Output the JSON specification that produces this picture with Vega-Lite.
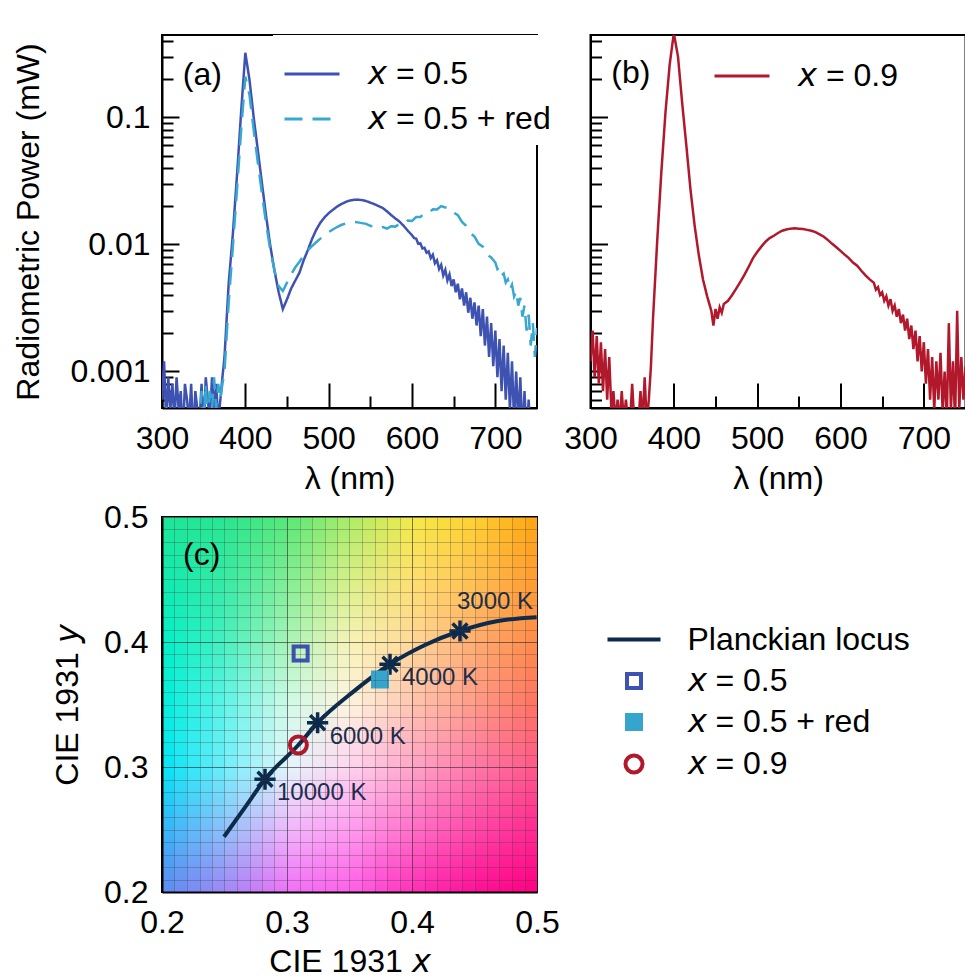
{
"$schema": "https://vega.github.io/schema/vega-lite/v6.json",
"autosize": "none",
"padding": {"left": 162, "top": 35, "right": 803, "bottom": 944},
"background": "white",
"config": {
  "font": "Liberation Sans",
  "view": {"stroke": "black", "strokeWidth": 2},
  "axis": {"labelFont": "Liberation Sans", "titleFont": "Liberation Sans", "labelFontSize": 32, "titleFontSize": 32, "titleFontWeight": "normal", "labelColor": "black", "titleColor": "black", "domainColor": "black", "domainWidth": 2, "tickColor": "black", "tickWidth": 2, "grid": false, "labelOverlap": false, "labelFlush": false},
  "legend": {"labelFont": "Liberation Sans", "labelFontSize": 32, "labelColor": "black", "labelLimit": 0},
  "text": {"font": "Liberation Sans"}
},
"datasets": {
  "spec_a": [
    {"sample": "\uD835\uDE39 = 0.5", "wl": 300, "p": 0.0006},
    {"sample": "\uD835\uDE39 = 0.5", "wl": 302.5, "p": 0.0012},
    {"sample": "\uD835\uDE39 = 0.5", "wl": 305, "p": 0.0004},
    {"sample": "\uD835\uDE39 = 0.5", "wl": 307.5, "p": 0.0009},
    {"sample": "\uD835\uDE39 = 0.5", "wl": 310, "p": 0.0005},
    {"sample": "\uD835\uDE39 = 0.5", "wl": 312.5, "p": 0.0008},
    {"sample": "\uD835\uDE39 = 0.5", "wl": 315, "p": 0.0004},
    {"sample": "\uD835\uDE39 = 0.5", "wl": 317.5, "p": 0.0009},
    {"sample": "\uD835\uDE39 = 0.5", "wl": 320, "p": 0.0005},
    {"sample": "\uD835\uDE39 = 0.5", "wl": 322.5, "p": 0.0007},
    {"sample": "\uD835\uDE39 = 0.5", "wl": 325, "p": 0.0003},
    {"sample": "\uD835\uDE39 = 0.5", "wl": 327.5, "p": 0.0008},
    {"sample": "\uD835\uDE39 = 0.5", "wl": 330, "p": 0.0006},
    {"sample": "\uD835\uDE39 = 0.5", "wl": 332.5, "p": 0.0004},
    {"sample": "\uD835\uDE39 = 0.5", "wl": 335, "p": 0.0008},
    {"sample": "\uD835\uDE39 = 0.5", "wl": 337.5, "p": 0.0003},
    {"sample": "\uD835\uDE39 = 0.5", "wl": 340, "p": 0.0007},
    {"sample": "\uD835\uDE39 = 0.5", "wl": 342.5, "p": 0.0005},
    {"sample": "\uD835\uDE39 = 0.5", "wl": 345, "p": 0.0004},
    {"sample": "\uD835\uDE39 = 0.5", "wl": 347.5, "p": 0.0008},
    {"sample": "\uD835\uDE39 = 0.5", "wl": 350, "p": 0.0003},
    {"sample": "\uD835\uDE39 = 0.5", "wl": 352.5, "p": 0.0009},
    {"sample": "\uD835\uDE39 = 0.5", "wl": 355, "p": 0.0006},
    {"sample": "\uD835\uDE39 = 0.5", "wl": 357.5, "p": 0.0004},
    {"sample": "\uD835\uDE39 = 0.5", "wl": 360, "p": 0.0009},
    {"sample": "\uD835\uDE39 = 0.5", "wl": 362.5, "p": 0.0005},
    {"sample": "\uD835\uDE39 = 0.5", "wl": 365, "p": 0.0008},
    {"sample": "\uD835\uDE39 = 0.5", "wl": 367.5, "p": 0.0004},
    {"sample": "\uD835\uDE39 = 0.5", "wl": 370, "p": 0.0006},
    {"sample": "\uD835\uDE39 = 0.5", "wl": 372.5, "p": 0.0009},
    {"sample": "\uD835\uDE39 = 0.5", "wl": 375, "p": 0.0013},
    {"sample": "\uD835\uDE39 = 0.5", "wl": 380, "p": 0.0049},
    {"sample": "\uD835\uDE39 = 0.5", "wl": 385, "p": 0.012},
    {"sample": "\uD835\uDE39 = 0.5", "wl": 390, "p": 0.035},
    {"sample": "\uD835\uDE39 = 0.5", "wl": 395, "p": 0.111},
    {"sample": "\uD835\uDE39 = 0.5", "wl": 400, "p": 0.322},
    {"sample": "\uD835\uDE39 = 0.5", "wl": 405, "p": 0.197},
    {"sample": "\uD835\uDE39 = 0.5", "wl": 410, "p": 0.100},
    {"sample": "\uD835\uDE39 = 0.5", "wl": 415, "p": 0.055},
    {"sample": "\uD835\uDE39 = 0.5", "wl": 420, "p": 0.030},
    {"sample": "\uD835\uDE39 = 0.5", "wl": 425, "p": 0.0166},
    {"sample": "\uD835\uDE39 = 0.5", "wl": 430, "p": 0.0097},
    {"sample": "\uD835\uDE39 = 0.5", "wl": 435, "p": 0.0062},
    {"sample": "\uD835\uDE39 = 0.5", "wl": 440, "p": 0.0042},
    {"sample": "\uD835\uDE39 = 0.5", "wl": 445, "p": 0.0031},
    {"sample": "\uD835\uDE39 = 0.5", "wl": 450, "p": 0.0037},
    {"sample": "\uD835\uDE39 = 0.5", "wl": 455, "p": 0.0045},
    {"sample": "\uD835\uDE39 = 0.5", "wl": 460, "p": 0.0052},
    {"sample": "\uD835\uDE39 = 0.5", "wl": 465, "p": 0.0060},
    {"sample": "\uD835\uDE39 = 0.5", "wl": 470, "p": 0.0075},
    {"sample": "\uD835\uDE39 = 0.5", "wl": 475, "p": 0.0090},
    {"sample": "\uD835\uDE39 = 0.5", "wl": 480, "p": 0.0110},
    {"sample": "\uD835\uDE39 = 0.5", "wl": 485, "p": 0.0130},
    {"sample": "\uD835\uDE39 = 0.5", "wl": 490, "p": 0.0148},
    {"sample": "\uD835\uDE39 = 0.5", "wl": 495, "p": 0.0163},
    {"sample": "\uD835\uDE39 = 0.5", "wl": 500, "p": 0.0176},
    {"sample": "\uD835\uDE39 = 0.5", "wl": 505, "p": 0.0187},
    {"sample": "\uD835\uDE39 = 0.5", "wl": 510, "p": 0.0198},
    {"sample": "\uD835\uDE39 = 0.5", "wl": 515, "p": 0.0207},
    {"sample": "\uD835\uDE39 = 0.5", "wl": 520, "p": 0.0215},
    {"sample": "\uD835\uDE39 = 0.5", "wl": 525, "p": 0.0221},
    {"sample": "\uD835\uDE39 = 0.5", "wl": 530, "p": 0.0224},
    {"sample": "\uD835\uDE39 = 0.5", "wl": 535, "p": 0.0225},
    {"sample": "\uD835\uDE39 = 0.5", "wl": 540, "p": 0.0223},
    {"sample": "\uD835\uDE39 = 0.5", "wl": 545, "p": 0.0219},
    {"sample": "\uD835\uDE39 = 0.5", "wl": 550, "p": 0.0213},
    {"sample": "\uD835\uDE39 = 0.5", "wl": 555, "p": 0.0207},
    {"sample": "\uD835\uDE39 = 0.5", "wl": 560, "p": 0.0200},
    {"sample": "\uD835\uDE39 = 0.5", "wl": 565, "p": 0.0193},
    {"sample": "\uD835\uDE39 = 0.5", "wl": 570, "p": 0.0182},
    {"sample": "\uD835\uDE39 = 0.5", "wl": 575, "p": 0.0170},
    {"sample": "\uD835\uDE39 = 0.5", "wl": 580, "p": 0.0160},
    {"sample": "\uD835\uDE39 = 0.5", "wl": 585, "p": 0.0151},
    {"sample": "\uD835\uDE39 = 0.5", "wl": 590, "p": 0.0140},
    {"sample": "\uD835\uDE39 = 0.5", "wl": 595, "p": 0.0128},
    {"sample": "\uD835\uDE39 = 0.5", "wl": 600, "p": 0.0118},
    {"sample": "\uD835\uDE39 = 0.5", "wl": 602.5, "p": 0.0112},
    {"sample": "\uD835\uDE39 = 0.5", "wl": 605, "p": 0.0111},
    {"sample": "\uD835\uDE39 = 0.5", "wl": 607.5, "p": 0.0101},
    {"sample": "\uD835\uDE39 = 0.5", "wl": 610, "p": 0.0102},
    {"sample": "\uD835\uDE39 = 0.5", "wl": 612.5, "p": 0.0093},
    {"sample": "\uD835\uDE39 = 0.5", "wl": 615, "p": 0.0094},
    {"sample": "\uD835\uDE39 = 0.5", "wl": 617.5, "p": 0.0086},
    {"sample": "\uD835\uDE39 = 0.5", "wl": 620, "p": 0.0088},
    {"sample": "\uD835\uDE39 = 0.5", "wl": 622.5, "p": 0.0078},
    {"sample": "\uD835\uDE39 = 0.5", "wl": 625, "p": 0.0083},
    {"sample": "\uD835\uDE39 = 0.5", "wl": 627.5, "p": 0.0071},
    {"sample": "\uD835\uDE39 = 0.5", "wl": 630, "p": 0.0075},
    {"sample": "\uD835\uDE39 = 0.5", "wl": 632.5, "p": 0.0064},
    {"sample": "\uD835\uDE39 = 0.5", "wl": 635, "p": 0.0069},
    {"sample": "\uD835\uDE39 = 0.5", "wl": 637.5, "p": 0.0057},
    {"sample": "\uD835\uDE39 = 0.5", "wl": 640, "p": 0.0063},
    {"sample": "\uD835\uDE39 = 0.5", "wl": 642.5, "p": 0.0052},
    {"sample": "\uD835\uDE39 = 0.5", "wl": 645, "p": 0.0058},
    {"sample": "\uD835\uDE39 = 0.5", "wl": 647.5, "p": 0.0047},
    {"sample": "\uD835\uDE39 = 0.5", "wl": 650, "p": 0.0053},
    {"sample": "\uD835\uDE39 = 0.5", "wl": 652.5, "p": 0.0042},
    {"sample": "\uD835\uDE39 = 0.5", "wl": 655, "p": 0.0049},
    {"sample": "\uD835\uDE39 = 0.5", "wl": 657.5, "p": 0.0037},
    {"sample": "\uD835\uDE39 = 0.5", "wl": 660, "p": 0.0045},
    {"sample": "\uD835\uDE39 = 0.5", "wl": 662.5, "p": 0.0033},
    {"sample": "\uD835\uDE39 = 0.5", "wl": 665, "p": 0.0042},
    {"sample": "\uD835\uDE39 = 0.5", "wl": 667.5, "p": 0.0029},
    {"sample": "\uD835\uDE39 = 0.5", "wl": 670, "p": 0.0038},
    {"sample": "\uD835\uDE39 = 0.5", "wl": 672.5, "p": 0.0026},
    {"sample": "\uD835\uDE39 = 0.5", "wl": 675, "p": 0.0035},
    {"sample": "\uD835\uDE39 = 0.5", "wl": 677.5, "p": 0.0023},
    {"sample": "\uD835\uDE39 = 0.5", "wl": 680, "p": 0.0033},
    {"sample": "\uD835\uDE39 = 0.5", "wl": 682.5, "p": 0.0019},
    {"sample": "\uD835\uDE39 = 0.5", "wl": 685, "p": 0.0031},
    {"sample": "\uD835\uDE39 = 0.5", "wl": 687.5, "p": 0.0016},
    {"sample": "\uD835\uDE39 = 0.5", "wl": 690, "p": 0.0027},
    {"sample": "\uD835\uDE39 = 0.5", "wl": 692.5, "p": 0.0013},
    {"sample": "\uD835\uDE39 = 0.5", "wl": 695, "p": 0.0024},
    {"sample": "\uD835\uDE39 = 0.5", "wl": 697.5, "p": 0.0011},
    {"sample": "\uD835\uDE39 = 0.5", "wl": 700, "p": 0.0021},
    {"sample": "\uD835\uDE39 = 0.5", "wl": 702.5, "p": 0.0009},
    {"sample": "\uD835\uDE39 = 0.5", "wl": 705, "p": 0.0018},
    {"sample": "\uD835\uDE39 = 0.5", "wl": 707.5, "p": 0.0007},
    {"sample": "\uD835\uDE39 = 0.5", "wl": 710, "p": 0.0016},
    {"sample": "\uD835\uDE39 = 0.5", "wl": 712.5, "p": 0.0006},
    {"sample": "\uD835\uDE39 = 0.5", "wl": 715, "p": 0.0014},
    {"sample": "\uD835\uDE39 = 0.5", "wl": 717.5, "p": 0.0005},
    {"sample": "\uD835\uDE39 = 0.5", "wl": 720, "p": 0.0012},
    {"sample": "\uD835\uDE39 = 0.5", "wl": 722.5, "p": 0.0004},
    {"sample": "\uD835\uDE39 = 0.5", "wl": 725, "p": 0.0010},
    {"sample": "\uD835\uDE39 = 0.5", "wl": 727.5, "p": 0.0004},
    {"sample": "\uD835\uDE39 = 0.5", "wl": 730, "p": 0.0009},
    {"sample": "\uD835\uDE39 = 0.5", "wl": 732.5, "p": 0.0003},
    {"sample": "\uD835\uDE39 = 0.5", "wl": 735, "p": 0.0007},
    {"sample": "\uD835\uDE39 = 0.5", "wl": 737.5, "p": 0.0003},
    {"sample": "\uD835\uDE39 = 0.5", "wl": 740, "p": 0.0006},
    {"sample": "\uD835\uDE39 = 0.5", "wl": 742.5, "p": 0.0003},
    {"sample": "\uD835\uDE39 = 0.5", "wl": 745, "p": 0.0005},
    {"sample": "\uD835\uDE39 = 0.5", "wl": 747.5, "p": 0.0003},
    {"sample": "\uD835\uDE39 = 0.5", "wl": 750, "p": 0.0004},
    {"sample": "\uD835\uDE39 = 0.5 + red", "wl": 300, "p": 0.0004},
    {"sample": "\uD835\uDE39 = 0.5 + red", "wl": 305, "p": 0.0005},
    {"sample": "\uD835\uDE39 = 0.5 + red", "wl": 310, "p": 0.0004},
    {"sample": "\uD835\uDE39 = 0.5 + red", "wl": 315, "p": 0.0003},
    {"sample": "\uD835\uDE39 = 0.5 + red", "wl": 320, "p": 0.0004},
    {"sample": "\uD835\uDE39 = 0.5 + red", "wl": 325, "p": 0.0003},
    {"sample": "\uD835\uDE39 = 0.5 + red", "wl": 330, "p": 0.0004},
    {"sample": "\uD835\uDE39 = 0.5 + red", "wl": 335, "p": 0.0003},
    {"sample": "\uD835\uDE39 = 0.5 + red", "wl": 340, "p": 0.0005},
    {"sample": "\uD835\uDE39 = 0.5 + red", "wl": 345, "p": 0.0004},
    {"sample": "\uD835\uDE39 = 0.5 + red", "wl": 347.5, "p": 0.0007},
    {"sample": "\uD835\uDE39 = 0.5 + red", "wl": 350, "p": 0.0004},
    {"sample": "\uD835\uDE39 = 0.5 + red", "wl": 352.5, "p": 0.0008},
    {"sample": "\uD835\uDE39 = 0.5 + red", "wl": 355, "p": 0.0004},
    {"sample": "\uD835\uDE39 = 0.5 + red", "wl": 357.5, "p": 0.0007},
    {"sample": "\uD835\uDE39 = 0.5 + red", "wl": 360, "p": 0.0005},
    {"sample": "\uD835\uDE39 = 0.5 + red", "wl": 362.5, "p": 0.0009},
    {"sample": "\uD835\uDE39 = 0.5 + red", "wl": 365, "p": 0.0005},
    {"sample": "\uD835\uDE39 = 0.5 + red", "wl": 367.5, "p": 0.0008},
    {"sample": "\uD835\uDE39 = 0.5 + red", "wl": 370, "p": 0.0006},
    {"sample": "\uD835\uDE39 = 0.5 + red", "wl": 372.5, "p": 0.0008},
    {"sample": "\uD835\uDE39 = 0.5 + red", "wl": 375, "p": 0.0010},
    {"sample": "\uD835\uDE39 = 0.5 + red", "wl": 380, "p": 0.0035},
    {"sample": "\uD835\uDE39 = 0.5 + red", "wl": 385, "p": 0.0095},
    {"sample": "\uD835\uDE39 = 0.5 + red", "wl": 390, "p": 0.027},
    {"sample": "\uD835\uDE39 = 0.5 + red", "wl": 395, "p": 0.080},
    {"sample": "\uD835\uDE39 = 0.5 + red", "wl": 400, "p": 0.209},
    {"sample": "\uD835\uDE39 = 0.5 + red", "wl": 405, "p": 0.150},
    {"sample": "\uD835\uDE39 = 0.5 + red", "wl": 410, "p": 0.080},
    {"sample": "\uD835\uDE39 = 0.5 + red", "wl": 415, "p": 0.044},
    {"sample": "\uD835\uDE39 = 0.5 + red", "wl": 420, "p": 0.025},
    {"sample": "\uD835\uDE39 = 0.5 + red", "wl": 425, "p": 0.0145},
    {"sample": "\uD835\uDE39 = 0.5 + red", "wl": 430, "p": 0.0090},
    {"sample": "\uD835\uDE39 = 0.5 + red", "wl": 435, "p": 0.0062},
    {"sample": "\uD835\uDE39 = 0.5 + red", "wl": 440, "p": 0.0047},
    {"sample": "\uD835\uDE39 = 0.5 + red", "wl": 445, "p": 0.0043},
    {"sample": "\uD835\uDE39 = 0.5 + red", "wl": 450, "p": 0.0050},
    {"sample": "\uD835\uDE39 = 0.5 + red", "wl": 455, "p": 0.0058},
    {"sample": "\uD835\uDE39 = 0.5 + red", "wl": 460, "p": 0.0066},
    {"sample": "\uD835\uDE39 = 0.5 + red", "wl": 465, "p": 0.0073},
    {"sample": "\uD835\uDE39 = 0.5 + red", "wl": 470, "p": 0.0082},
    {"sample": "\uD835\uDE39 = 0.5 + red", "wl": 475, "p": 0.0090},
    {"sample": "\uD835\uDE39 = 0.5 + red", "wl": 480, "p": 0.0097},
    {"sample": "\uD835\uDE39 = 0.5 + red", "wl": 485, "p": 0.0104},
    {"sample": "\uD835\uDE39 = 0.5 + red", "wl": 490, "p": 0.0111},
    {"sample": "\uD835\uDE39 = 0.5 + red", "wl": 495, "p": 0.0118},
    {"sample": "\uD835\uDE39 = 0.5 + red", "wl": 500, "p": 0.0125},
    {"sample": "\uD835\uDE39 = 0.5 + red", "wl": 505, "p": 0.0131},
    {"sample": "\uD835\uDE39 = 0.5 + red", "wl": 510, "p": 0.0137},
    {"sample": "\uD835\uDE39 = 0.5 + red", "wl": 515, "p": 0.0142},
    {"sample": "\uD835\uDE39 = 0.5 + red", "wl": 520, "p": 0.0146},
    {"sample": "\uD835\uDE39 = 0.5 + red", "wl": 525, "p": 0.0149},
    {"sample": "\uD835\uDE39 = 0.5 + red", "wl": 530, "p": 0.0150},
    {"sample": "\uD835\uDE39 = 0.5 + red", "wl": 535, "p": 0.0149},
    {"sample": "\uD835\uDE39 = 0.5 + red", "wl": 540, "p": 0.0147},
    {"sample": "\uD835\uDE39 = 0.5 + red", "wl": 545, "p": 0.0145},
    {"sample": "\uD835\uDE39 = 0.5 + red", "wl": 550, "p": 0.0140},
    {"sample": "\uD835\uDE39 = 0.5 + red", "wl": 555, "p": 0.0137},
    {"sample": "\uD835\uDE39 = 0.5 + red", "wl": 560, "p": 0.0134},
    {"sample": "\uD835\uDE39 = 0.5 + red", "wl": 565, "p": 0.0137},
    {"sample": "\uD835\uDE39 = 0.5 + red", "wl": 570, "p": 0.0133},
    {"sample": "\uD835\uDE39 = 0.5 + red", "wl": 575, "p": 0.0139},
    {"sample": "\uD835\uDE39 = 0.5 + red", "wl": 580, "p": 0.0138},
    {"sample": "\uD835\uDE39 = 0.5 + red", "wl": 585, "p": 0.0145},
    {"sample": "\uD835\uDE39 = 0.5 + red", "wl": 590, "p": 0.0144},
    {"sample": "\uD835\uDE39 = 0.5 + red", "wl": 595, "p": 0.0154},
    {"sample": "\uD835\uDE39 = 0.5 + red", "wl": 600, "p": 0.0153},
    {"sample": "\uD835\uDE39 = 0.5 + red", "wl": 605, "p": 0.0164},
    {"sample": "\uD835\uDE39 = 0.5 + red", "wl": 610, "p": 0.0164},
    {"sample": "\uD835\uDE39 = 0.5 + red", "wl": 615, "p": 0.0176},
    {"sample": "\uD835\uDE39 = 0.5 + red", "wl": 620, "p": 0.0176},
    {"sample": "\uD835\uDE39 = 0.5 + red", "wl": 625, "p": 0.0189},
    {"sample": "\uD835\uDE39 = 0.5 + red", "wl": 630, "p": 0.0188},
    {"sample": "\uD835\uDE39 = 0.5 + red", "wl": 635, "p": 0.0200},
    {"sample": "\uD835\uDE39 = 0.5 + red", "wl": 640, "p": 0.0195},
    {"sample": "\uD835\uDE39 = 0.5 + red", "wl": 645, "p": 0.0194},
    {"sample": "\uD835\uDE39 = 0.5 + red", "wl": 650, "p": 0.0178},
    {"sample": "\uD835\uDE39 = 0.5 + red", "wl": 655, "p": 0.0170},
    {"sample": "\uD835\uDE39 = 0.5 + red", "wl": 660, "p": 0.0150},
    {"sample": "\uD835\uDE39 = 0.5 + red", "wl": 665, "p": 0.0140},
    {"sample": "\uD835\uDE39 = 0.5 + red", "wl": 670, "p": 0.0123},
    {"sample": "\uD835\uDE39 = 0.5 + red", "wl": 675, "p": 0.0115},
    {"sample": "\uD835\uDE39 = 0.5 + red", "wl": 680, "p": 0.0101},
    {"sample": "\uD835\uDE39 = 0.5 + red", "wl": 685, "p": 0.0096},
    {"sample": "\uD835\uDE39 = 0.5 + red", "wl": 690, "p": 0.0083},
    {"sample": "\uD835\uDE39 = 0.5 + red", "wl": 695, "p": 0.0079},
    {"sample": "\uD835\uDE39 = 0.5 + red", "wl": 700, "p": 0.0072},
    {"sample": "\uD835\uDE39 = 0.5 + red", "wl": 702.5, "p": 0.0064},
    {"sample": "\uD835\uDE39 = 0.5 + red", "wl": 705, "p": 0.0066},
    {"sample": "\uD835\uDE39 = 0.5 + red", "wl": 707.5, "p": 0.0057},
    {"sample": "\uD835\uDE39 = 0.5 + red", "wl": 710, "p": 0.0059},
    {"sample": "\uD835\uDE39 = 0.5 + red", "wl": 712.5, "p": 0.0050},
    {"sample": "\uD835\uDE39 = 0.5 + red", "wl": 715, "p": 0.0053},
    {"sample": "\uD835\uDE39 = 0.5 + red", "wl": 717.5, "p": 0.0044},
    {"sample": "\uD835\uDE39 = 0.5 + red", "wl": 720, "p": 0.0048},
    {"sample": "\uD835\uDE39 = 0.5 + red", "wl": 722.5, "p": 0.0039},
    {"sample": "\uD835\uDE39 = 0.5 + red", "wl": 725, "p": 0.0043},
    {"sample": "\uD835\uDE39 = 0.5 + red", "wl": 727.5, "p": 0.0033},
    {"sample": "\uD835\uDE39 = 0.5 + red", "wl": 730, "p": 0.0038},
    {"sample": "\uD835\uDE39 = 0.5 + red", "wl": 732.5, "p": 0.0027},
    {"sample": "\uD835\uDE39 = 0.5 + red", "wl": 735, "p": 0.0033},
    {"sample": "\uD835\uDE39 = 0.5 + red", "wl": 737.5, "p": 0.0021},
    {"sample": "\uD835\uDE39 = 0.5 + red", "wl": 740, "p": 0.0028},
    {"sample": "\uD835\uDE39 = 0.5 + red", "wl": 742.5, "p": 0.0016},
    {"sample": "\uD835\uDE39 = 0.5 + red", "wl": 745, "p": 0.0024},
    {"sample": "\uD835\uDE39 = 0.5 + red", "wl": 747.5, "p": 0.0013},
    {"sample": "\uD835\uDE39 = 0.5 + red", "wl": 750, "p": 0.0022}
  ],
  "spec_b": [
    {"sample": "\uD835\uDE39 = 0.9", "wl": 300, "p": 0.0012},
    {"sample": "\uD835\uDE39 = 0.9", "wl": 302.5, "p": 0.0021},
    {"sample": "\uD835\uDE39 = 0.9", "wl": 305, "p": 0.0009},
    {"sample": "\uD835\uDE39 = 0.9", "wl": 307.5, "p": 0.0019},
    {"sample": "\uD835\uDE39 = 0.9", "wl": 310, "p": 0.0008},
    {"sample": "\uD835\uDE39 = 0.9", "wl": 312.5, "p": 0.0017},
    {"sample": "\uD835\uDE39 = 0.9", "wl": 315, "p": 0.0007},
    {"sample": "\uD835\uDE39 = 0.9", "wl": 317.5, "p": 0.0015},
    {"sample": "\uD835\uDE39 = 0.9", "wl": 320, "p": 0.0006},
    {"sample": "\uD835\uDE39 = 0.9", "wl": 322.5, "p": 0.0013},
    {"sample": "\uD835\uDE39 = 0.9", "wl": 325, "p": 0.0005},
    {"sample": "\uD835\uDE39 = 0.9", "wl": 327.5, "p": 0.0007},
    {"sample": "\uD835\uDE39 = 0.9", "wl": 330, "p": 0.0004},
    {"sample": "\uD835\uDE39 = 0.9", "wl": 332.5, "p": 0.0006},
    {"sample": "\uD835\uDE39 = 0.9", "wl": 335, "p": 0.0004},
    {"sample": "\uD835\uDE39 = 0.9", "wl": 337.5, "p": 0.0007},
    {"sample": "\uD835\uDE39 = 0.9", "wl": 340, "p": 0.0004},
    {"sample": "\uD835\uDE39 = 0.9", "wl": 342.5, "p": 0.0006},
    {"sample": "\uD835\uDE39 = 0.9", "wl": 345, "p": 0.0004},
    {"sample": "\uD835\uDE39 = 0.9", "wl": 347.5, "p": 0.0004},
    {"sample": "\uD835\uDE39 = 0.9", "wl": 350, "p": 0.0008},
    {"sample": "\uD835\uDE39 = 0.9", "wl": 352.5, "p": 0.0004},
    {"sample": "\uD835\uDE39 = 0.9", "wl": 355, "p": 0.0005},
    {"sample": "\uD835\uDE39 = 0.9", "wl": 357.5, "p": 0.0004},
    {"sample": "\uD835\uDE39 = 0.9", "wl": 360, "p": 0.0007},
    {"sample": "\uD835\uDE39 = 0.9", "wl": 362.5, "p": 0.0004},
    {"sample": "\uD835\uDE39 = 0.9", "wl": 365, "p": 0.0009},
    {"sample": "\uD835\uDE39 = 0.9", "wl": 367.5, "p": 0.0004},
    {"sample": "\uD835\uDE39 = 0.9", "wl": 370, "p": 0.0006},
    {"sample": "\uD835\uDE39 = 0.9", "wl": 372.5, "p": 0.0011},
    {"sample": "\uD835\uDE39 = 0.9", "wl": 375, "p": 0.0026},
    {"sample": "\uD835\uDE39 = 0.9", "wl": 380, "p": 0.0105},
    {"sample": "\uD835\uDE39 = 0.9", "wl": 385, "p": 0.037},
    {"sample": "\uD835\uDE39 = 0.9", "wl": 390, "p": 0.110},
    {"sample": "\uD835\uDE39 = 0.9", "wl": 395, "p": 0.26},
    {"sample": "\uD835\uDE39 = 0.9", "wl": 400, "p": 0.46},
    {"sample": "\uD835\uDE39 = 0.9", "wl": 405, "p": 0.30},
    {"sample": "\uD835\uDE39 = 0.9", "wl": 410, "p": 0.13},
    {"sample": "\uD835\uDE39 = 0.9", "wl": 415, "p": 0.060},
    {"sample": "\uD835\uDE39 = 0.9", "wl": 420, "p": 0.027},
    {"sample": "\uD835\uDE39 = 0.9", "wl": 425, "p": 0.0140},
    {"sample": "\uD835\uDE39 = 0.9", "wl": 430, "p": 0.0082},
    {"sample": "\uD835\uDE39 = 0.9", "wl": 435, "p": 0.0053},
    {"sample": "\uD835\uDE39 = 0.9", "wl": 440, "p": 0.0039},
    {"sample": "\uD835\uDE39 = 0.9", "wl": 445, "p": 0.0030},
    {"sample": "\uD835\uDE39 = 0.9", "wl": 447.5, "p": 0.0023},
    {"sample": "\uD835\uDE39 = 0.9", "wl": 450, "p": 0.0031},
    {"sample": "\uD835\uDE39 = 0.9", "wl": 452.5, "p": 0.0026},
    {"sample": "\uD835\uDE39 = 0.9", "wl": 455, "p": 0.0032},
    {"sample": "\uD835\uDE39 = 0.9", "wl": 457.5, "p": 0.0029},
    {"sample": "\uD835\uDE39 = 0.9", "wl": 460, "p": 0.0034},
    {"sample": "\uD835\uDE39 = 0.9", "wl": 465, "p": 0.0036},
    {"sample": "\uD835\uDE39 = 0.9", "wl": 470, "p": 0.0040},
    {"sample": "\uD835\uDE39 = 0.9", "wl": 475, "p": 0.0045},
    {"sample": "\uD835\uDE39 = 0.9", "wl": 480, "p": 0.0051},
    {"sample": "\uD835\uDE39 = 0.9", "wl": 485, "p": 0.0058},
    {"sample": "\uD835\uDE39 = 0.9", "wl": 490, "p": 0.0067},
    {"sample": "\uD835\uDE39 = 0.9", "wl": 495, "p": 0.0078},
    {"sample": "\uD835\uDE39 = 0.9", "wl": 500, "p": 0.0087},
    {"sample": "\uD835\uDE39 = 0.9", "wl": 505, "p": 0.0096},
    {"sample": "\uD835\uDE39 = 0.9", "wl": 510, "p": 0.0105},
    {"sample": "\uD835\uDE39 = 0.9", "wl": 515, "p": 0.0112},
    {"sample": "\uD835\uDE39 = 0.9", "wl": 520, "p": 0.0117},
    {"sample": "\uD835\uDE39 = 0.9", "wl": 525, "p": 0.0123},
    {"sample": "\uD835\uDE39 = 0.9", "wl": 530, "p": 0.0128},
    {"sample": "\uD835\uDE39 = 0.9", "wl": 535, "p": 0.0131},
    {"sample": "\uD835\uDE39 = 0.9", "wl": 540, "p": 0.0133},
    {"sample": "\uD835\uDE39 = 0.9", "wl": 545, "p": 0.0134},
    {"sample": "\uD835\uDE39 = 0.9", "wl": 550, "p": 0.0133},
    {"sample": "\uD835\uDE39 = 0.9", "wl": 555, "p": 0.0132},
    {"sample": "\uD835\uDE39 = 0.9", "wl": 560, "p": 0.0130},
    {"sample": "\uD835\uDE39 = 0.9", "wl": 565, "p": 0.0128},
    {"sample": "\uD835\uDE39 = 0.9", "wl": 570, "p": 0.0125},
    {"sample": "\uD835\uDE39 = 0.9", "wl": 575, "p": 0.0120},
    {"sample": "\uD835\uDE39 = 0.9", "wl": 580, "p": 0.0115},
    {"sample": "\uD835\uDE39 = 0.9", "wl": 585, "p": 0.0108},
    {"sample": "\uD835\uDE39 = 0.9", "wl": 590, "p": 0.0101},
    {"sample": "\uD835\uDE39 = 0.9", "wl": 595, "p": 0.0095},
    {"sample": "\uD835\uDE39 = 0.9", "wl": 600, "p": 0.0089},
    {"sample": "\uD835\uDE39 = 0.9", "wl": 605, "p": 0.0083},
    {"sample": "\uD835\uDE39 = 0.9", "wl": 610, "p": 0.0078},
    {"sample": "\uD835\uDE39 = 0.9", "wl": 615, "p": 0.0072},
    {"sample": "\uD835\uDE39 = 0.9", "wl": 620, "p": 0.0068},
    {"sample": "\uD835\uDE39 = 0.9", "wl": 625, "p": 0.0062},
    {"sample": "\uD835\uDE39 = 0.9", "wl": 630, "p": 0.0057},
    {"sample": "\uD835\uDE39 = 0.9", "wl": 635, "p": 0.0053},
    {"sample": "\uD835\uDE39 = 0.9", "wl": 640, "p": 0.0050},
    {"sample": "\uD835\uDE39 = 0.9", "wl": 642.5, "p": 0.0044},
    {"sample": "\uD835\uDE39 = 0.9", "wl": 645, "p": 0.0046},
    {"sample": "\uD835\uDE39 = 0.9", "wl": 647.5, "p": 0.0040},
    {"sample": "\uD835\uDE39 = 0.9", "wl": 650, "p": 0.0042},
    {"sample": "\uD835\uDE39 = 0.9", "wl": 652.5, "p": 0.0036},
    {"sample": "\uD835\uDE39 = 0.9", "wl": 655, "p": 0.0039},
    {"sample": "\uD835\uDE39 = 0.9", "wl": 657.5, "p": 0.0033},
    {"sample": "\uD835\uDE39 = 0.9", "wl": 660, "p": 0.0037},
    {"sample": "\uD835\uDE39 = 0.9", "wl": 662.5, "p": 0.0030},
    {"sample": "\uD835\uDE39 = 0.9", "wl": 665, "p": 0.0033},
    {"sample": "\uD835\uDE39 = 0.9", "wl": 667.5, "p": 0.0027},
    {"sample": "\uD835\uDE39 = 0.9", "wl": 670, "p": 0.0031},
    {"sample": "\uD835\uDE39 = 0.9", "wl": 672.5, "p": 0.0024},
    {"sample": "\uD835\uDE39 = 0.9", "wl": 675, "p": 0.0028},
    {"sample": "\uD835\uDE39 = 0.9", "wl": 677.5, "p": 0.0021},
    {"sample": "\uD835\uDE39 = 0.9", "wl": 680, "p": 0.0026},
    {"sample": "\uD835\uDE39 = 0.9", "wl": 682.5, "p": 0.0018},
    {"sample": "\uD835\uDE39 = 0.9", "wl": 685, "p": 0.0023},
    {"sample": "\uD835\uDE39 = 0.9", "wl": 687.5, "p": 0.0015},
    {"sample": "\uD835\uDE39 = 0.9", "wl": 690, "p": 0.0021},
    {"sample": "\uD835\uDE39 = 0.9", "wl": 692.5, "p": 0.0012},
    {"sample": "\uD835\uDE39 = 0.9", "wl": 695, "p": 0.0019},
    {"sample": "\uD835\uDE39 = 0.9", "wl": 697.5, "p": 0.0010},
    {"sample": "\uD835\uDE39 = 0.9", "wl": 700, "p": 0.0017},
    {"sample": "\uD835\uDE39 = 0.9", "wl": 702.5, "p": 0.0008},
    {"sample": "\uD835\uDE39 = 0.9", "wl": 705, "p": 0.0015},
    {"sample": "\uD835\uDE39 = 0.9", "wl": 707.5, "p": 0.0006},
    {"sample": "\uD835\uDE39 = 0.9", "wl": 710, "p": 0.0013},
    {"sample": "\uD835\uDE39 = 0.9", "wl": 712.5, "p": 0.0005},
    {"sample": "\uD835\uDE39 = 0.9", "wl": 715, "p": 0.0012},
    {"sample": "\uD835\uDE39 = 0.9", "wl": 717.5, "p": 0.0006},
    {"sample": "\uD835\uDE39 = 0.9", "wl": 720, "p": 0.0014},
    {"sample": "\uD835\uDE39 = 0.9", "wl": 722.5, "p": 0.0005},
    {"sample": "\uD835\uDE39 = 0.9", "wl": 725, "p": 0.0010},
    {"sample": "\uD835\uDE39 = 0.9", "wl": 727.5, "p": 0.0004},
    {"sample": "\uD835\uDE39 = 0.9", "wl": 730, "p": 0.0024},
    {"sample": "\uD835\uDE39 = 0.9", "wl": 732.5, "p": 0.0005},
    {"sample": "\uD835\uDE39 = 0.9", "wl": 735, "p": 0.0012},
    {"sample": "\uD835\uDE39 = 0.9", "wl": 737.5, "p": 0.0004},
    {"sample": "\uD835\uDE39 = 0.9", "wl": 740, "p": 0.0030},
    {"sample": "\uD835\uDE39 = 0.9", "wl": 742.5, "p": 0.0005},
    {"sample": "\uD835\uDE39 = 0.9", "wl": 745, "p": 0.0013},
    {"sample": "\uD835\uDE39 = 0.9", "wl": 747.5, "p": 0.0006},
    {"sample": "\uD835\uDE39 = 0.9", "wl": 750, "p": 0.0011}
  ],
  "segs": [
    {"x": 0.20, "x_hi": 0.26, "y": 0.2, "y_hi": 0.5}, {"x": 0.25, "x_hi": 0.31, "y": 0.2, "y_hi": 0.5}, {"x": 0.30, "x_hi": 0.36, "y": 0.2, "y_hi": 0.5},
    {"x": 0.35, "x_hi": 0.41, "y": 0.2, "y_hi": 0.5}, {"x": 0.40, "x_hi": 0.46, "y": 0.2, "y_hi": 0.5}, {"x": 0.45, "x_hi": 0.50, "y": 0.2, "y_hi": 0.5}
  ],
  "cells": [
    {"x": 0.20, "x_hi": 0.21, "y": 0.2, "y_hi": 0.5}, {"x": 0.21, "x_hi": 0.22, "y": 0.2, "y_hi": 0.5}, {"x": 0.22, "x_hi": 0.23, "y": 0.2, "y_hi": 0.5}, {"x": 0.23, "x_hi": 0.24, "y": 0.2, "y_hi": 0.5}, {"x": 0.24, "x_hi": 0.25, "y": 0.2, "y_hi": 0.5},
    {"x": 0.25, "x_hi": 0.26, "y": 0.2, "y_hi": 0.5}, {"x": 0.26, "x_hi": 0.27, "y": 0.2, "y_hi": 0.5}, {"x": 0.27, "x_hi": 0.28, "y": 0.2, "y_hi": 0.5}, {"x": 0.28, "x_hi": 0.29, "y": 0.2, "y_hi": 0.5}, {"x": 0.29, "x_hi": 0.30, "y": 0.2, "y_hi": 0.5},
    {"x": 0.30, "x_hi": 0.31, "y": 0.2, "y_hi": 0.5}, {"x": 0.31, "x_hi": 0.32, "y": 0.2, "y_hi": 0.5}, {"x": 0.32, "x_hi": 0.33, "y": 0.2, "y_hi": 0.5}, {"x": 0.33, "x_hi": 0.34, "y": 0.2, "y_hi": 0.5}, {"x": 0.34, "x_hi": 0.35, "y": 0.2, "y_hi": 0.5},
    {"x": 0.35, "x_hi": 0.36, "y": 0.2, "y_hi": 0.5}, {"x": 0.36, "x_hi": 0.37, "y": 0.2, "y_hi": 0.5}, {"x": 0.37, "x_hi": 0.38, "y": 0.2, "y_hi": 0.5}, {"x": 0.38, "x_hi": 0.39, "y": 0.2, "y_hi": 0.5}, {"x": 0.39, "x_hi": 0.40, "y": 0.2, "y_hi": 0.5},
    {"x": 0.40, "x_hi": 0.41, "y": 0.2, "y_hi": 0.5}, {"x": 0.41, "x_hi": 0.42, "y": 0.2, "y_hi": 0.5}, {"x": 0.42, "x_hi": 0.43, "y": 0.2, "y_hi": 0.5}, {"x": 0.43, "x_hi": 0.44, "y": 0.2, "y_hi": 0.5}, {"x": 0.44, "x_hi": 0.45, "y": 0.2, "y_hi": 0.5},
    {"x": 0.45, "x_hi": 0.46, "y": 0.2, "y_hi": 0.5}, {"x": 0.46, "x_hi": 0.47, "y": 0.2, "y_hi": 0.5}, {"x": 0.47, "x_hi": 0.48, "y": 0.2, "y_hi": 0.5}, {"x": 0.48, "x_hi": 0.49, "y": 0.2, "y_hi": 0.5}, {"x": 0.49, "x_hi": 0.50, "y": 0.2, "y_hi": 0.5}
  ],
  "locus": [
    {"x": 0.2496, "y": 0.2442}, {"x": 0.2664, "y": 0.2677}, {"x": 0.2824, "y": 0.2902}, {"x": 0.3091, "y": 0.3176},
    {"x": 0.3245, "y": 0.3354}, {"x": 0.3531, "y": 0.3603}, {"x": 0.3824, "y": 0.3822}, {"x": 0.4104, "y": 0.3976},
    {"x": 0.4384, "y": 0.4088}, {"x": 0.4677, "y": 0.4166}, {"x": 0.4997, "y": 0.4198}
  ],
  "temps": [
    {"label": "10000 K", "x": 0.2824, "y": 0.2902},
    {"label": "6000 K", "x": 0.3245, "y": 0.3354},
    {"label": "4000 K", "x": 0.3824, "y": 0.3822},
    {"label": "3000 K", "x": 0.4384, "y": 0.4088}
  ],
  "points": [
    {"sample": "\uD835\uDE39 = 0.5", "x": 0.3109, "y": 0.3909},
    {"sample": "\uD835\uDE39 = 0.5 + red", "x": 0.3744, "y": 0.3701},
    {"sample": "\uD835\uDE39 = 0.9", "x": 0.3091, "y": 0.3176}
  ]
},
"bounds": "flush",
"columns": 2,
"spacing": {"row": 109, "column": 53.5},
"resolve": {
  "scale": {"x": "independent", "y": "independent", "color": "independent", "strokeDash": "independent", "fill": "independent", "stroke": "independent", "shape": "independent", "size": "independent", "opacity": "independent"},
  "legend": {"color": "independent", "strokeDash": "independent", "fill": "independent", "stroke": "independent", "shape": "independent", "size": "independent"}
},
"concat": [
  {
    "width": 375, "height": 373,
    "layer": [
      {
        "data": {"name": "spec_a"},
        "mark": {"type": "line", "strokeWidth": 2.5, "clip": true},
        "encoding": {
          "x": {"field": "wl", "type": "quantitative", "scale": {"domain": [300, 750], "nice": false, "zero": false},
            "axis": {"title": "λ (nm)", "values": [300,350,400,450,500,550,600,650,700], "labelExpr": "datum.value % 100 === 0 ? datum.label : ''", "labelOverlap": false, "tickSize": {"condition": {"test": "datum.value % 100 === 0", "value": -25}, "value": -12}, "labelPadding": 40, "titlePadding": -4}},
          "y": {"field": "p", "type": "quantitative", "scale": {"type": "log", "domain": [0.000516, 0.444], "nice": false},
            "axis": {"title": "Radiometric Power (mW)", "format": "~g", "values": [0.0006,0.0007,0.0008,0.0009,0.001,0.002,0.003,0.004,0.005,0.006,0.007,0.008,0.009,0.01,0.02,0.03,0.04,0.05,0.06,0.07,0.08,0.09,0.1,0.2,0.3,0.4], "labelExpr": "abs(log(datum.value)/LN10 - round(log(datum.value)/LN10)) < 1e-6 ? datum.label : ''", "labelOverlap": false, "tickSize": {"condition": {"test": "abs(log(datum.value)/LN10 - round(log(datum.value)/LN10)) < 1e-6", "value": -17}, "value": -11}, "labelPadding": 29, "titlePadding": 24}},
          "color": {"field": "sample", "type": "nominal", "scale": {"domain": ["\uD835\uDE39 = 0.5", "\uD835\uDE39 = 0.5 + red"], "range": ["#3d52b1", "#38a7d2"]},
            "legend": {"title": null, "orient": "none", "legendX": 111, "legendY": 0, "fillColor": "white", "padding": 10, "symbolSize": 3025, "symbolStrokeWidth": 3, "labelOffset": 27, "rowPadding": -3}},
          "strokeDash": {"field": "sample", "type": "nominal", "scale": {"domain": ["\uD835\uDE39 = 0.5", "\uD835\uDE39 = 0.5 + red"], "range": [[1, 0], [18, 10]]},
            "legend": {"title": null, "orient": "none", "legendX": 111, "legendY": 0, "fillColor": "white", "padding": 10, "symbolSize": 3025, "symbolStrokeWidth": 3, "labelOffset": 27, "rowPadding": -3}}
        }
      },
      {
        "data": {"values": [{}]},
        "mark": {"type": "text", "fontSize": 32, "align": "left", "baseline": "middle", "color": "black"},
        "encoding": {"x": {"datum": 325}, "y": {"datum": 0.215}, "text": {"value": "(a)"}}
      }
    ]
  },
  {
    "width": 375, "height": 373,
    "layer": [
      {
        "data": {"name": "spec_b"},
        "mark": {"type": "line", "strokeWidth": 2.5, "clip": true},
        "encoding": {
          "x": {"field": "wl", "type": "quantitative", "scale": {"domain": [300, 750], "nice": false, "zero": false},
            "axis": {"title": "λ (nm)", "values": [300,350,400,450,500,550,600,650,700], "labelExpr": "datum.value % 100 === 0 ? datum.label : ''", "labelOverlap": false, "tickSize": {"condition": {"test": "datum.value % 100 === 0", "value": -25}, "value": -12}, "labelPadding": 40, "titlePadding": -4}},
          "y": {"field": "p", "type": "quantitative", "scale": {"type": "log", "domain": [0.000516, 0.444], "nice": false},
            "axis": {"title": null, "labels": false, "values": [0.0006,0.0007,0.0008,0.0009,0.001,0.002,0.003,0.004,0.005,0.006,0.007,0.008,0.009,0.01,0.02,0.03,0.04,0.05,0.06,0.07,0.08,0.09,0.1,0.2,0.3,0.4], "tickSize": {"condition": {"test": "abs(log(datum.value)/LN10 - round(log(datum.value)/LN10)) < 1e-6", "value": -17}, "value": -11}}},
          "color": {"field": "sample", "type": "nominal", "scale": {"domain": ["\uD835\uDE39 = 0.9"], "range": ["#b2182b"]},
            "legend": {"title": null, "orient": "none", "legendX": 112.5, "legendY": 2, "padding": 10, "symbolSize": 3025, "symbolStrokeWidth": 3, "labelOffset": 27}}
        }
      },
      {
        "data": {"values": [{}]},
        "mark": {"type": "text", "fontSize": 32, "align": "left", "baseline": "middle", "color": "black"},
        "encoding": {"x": {"datum": 325}, "y": {"datum": 0.222}, "text": {"value": "(b)"}}
      }
    ]
  },
  {
    "width": 375, "height": 375,
    "resolve": {"scale": {"opacity": "independent"}},
    "layer": [
      {
        "resolve": {"scale": {"opacity": "independent"}},
        "encoding": {
          "x": {"field": "x", "type": "quantitative", "scale": {"domain": [0.2, 0.5], "nice": false, "zero": false},
            "axis": {"title": "CIE 1931 \uD835\uDE39", "values": [0.2,0.21,0.22,0.23,0.24,0.25,0.26,0.27,0.28,0.29,0.3,0.31,0.32,0.33,0.34,0.35,0.36,0.37,0.38,0.39,0.4,0.41,0.42,0.43,0.44,0.45,0.46,0.47,0.48,0.49,0.5], "labelExpr": "abs(datum.value*10 - round(datum.value*10)) < 1e-6 ? format(datum.value, '.1f') : ''", "labelOverlap": false, "ticks": false, "labelPadding": 15, "titlePadding": 8, "grid": true, "gridWidth": 1, "gridColor": {"condition": {"test": "abs(datum.value*10 - round(datum.value*10)) < 1e-6", "value": "rgba(40,40,40,0.6)"}, "value": "rgba(60,60,60,0.3)"}, "zindex": 1}},
          "y": {"field": "y", "type": "quantitative", "scale": {"domain": [0.2, 0.5], "nice": false, "zero": false},
            "axis": {"title": "CIE 1931 \uD835\uDE3A", "values": [0.2,0.21,0.22,0.23,0.24,0.25,0.26,0.27,0.28,0.29,0.3,0.31,0.32,0.33,0.34,0.35,0.36,0.37,0.38,0.39,0.4,0.41,0.42,0.43,0.44,0.45,0.46,0.47,0.48,0.49,0.5], "labelExpr": "abs(datum.value*10 - round(datum.value*10)) < 1e-6 ? format(datum.value, '.1f') : ''", "labelOverlap": false, "ticks": false, "labelPadding": 14, "titlePadding": 19, "grid": true, "gridWidth": 1, "gridColor": {"condition": {"test": "abs(datum.value*10 - round(datum.value*10)) < 1e-6", "value": "rgba(40,40,40,0.6)"}, "value": "rgba(60,60,60,0.3)"}, "zindex": 1}}
        },
        "layer": [
          {
            "data": {"name": "segs"},
            "transform": [{"filter": "abs(datum.x - 0.20) < 1e-6"}],
            "mark": {"type": "rect", "strokeWidth": 0, "fill": {"gradient": "linear", "x1": 0, "y1": 1, "x2": 0, "y2": 0, "stops": [{"offset": 0, "color": "#5a8cf0"}, {"offset": 0.1667, "color": "#30b4f8"}, {"offset": 0.3333, "color": "#00e4f4"}, {"offset": 0.5, "color": "#00eedd"}, {"offset": 0.6667, "color": "#00f0c8"}, {"offset": 0.8333, "color": "#10eab0"}, {"offset": 1, "color": "#1de69a"}]}},
            "encoding": {"x2": {"field": "x_hi"}, "y2": {"field": "y_hi"}}
          },
          {
            "data": {"name": "segs"},
            "transform": [{"filter": "abs(datum.x - 0.25) < 1e-6"}],
            "mark": {"type": "rect", "strokeWidth": 0, "fill": {"gradient": "linear", "x1": 0, "y1": 1, "x2": 0, "y2": 0, "stops": [{"offset": 0, "color": "#a088f6"}, {"offset": 0.1667, "color": "#90c0fa"}, {"offset": 0.3333, "color": "#70eefa"}, {"offset": 0.5, "color": "#60f4e8"}, {"offset": 0.6667, "color": "#48f0c0"}, {"offset": 0.8333, "color": "#36eaa4"}, {"offset": 1, "color": "#28e690"}]}},
            "encoding": {"x2": {"field": "x_hi"}, "y2": {"field": "y_hi"}}
          },
          {
            "data": {"name": "segs"},
            "transform": [{"filter": "abs(datum.x - 0.30) < 1e-6"}],
            "mark": {"type": "rect", "strokeWidth": 0, "fill": {"gradient": "linear", "x1": 0, "y1": 1, "x2": 0, "y2": 0, "stops": [{"offset": 0, "color": "#f070f8"}, {"offset": 0.1667, "color": "#f0b8fc"}, {"offset": 0.3333, "color": "#e4f6fc"}, {"offset": 0.5, "color": "#d0fae8"}, {"offset": 0.6667, "color": "#a8f4b8"}, {"offset": 0.8333, "color": "#80ee94"}, {"offset": 1, "color": "#56e878"}]}},
            "encoding": {"x2": {"field": "x_hi"}, "y2": {"field": "y_hi"}}
          },
          {
            "data": {"name": "segs"},
            "transform": [{"filter": "abs(datum.x - 0.35) < 1e-6"}],
            "mark": {"type": "rect", "strokeWidth": 0, "fill": {"gradient": "linear", "x1": 0, "y1": 1, "x2": 0, "y2": 0, "stops": [{"offset": 0, "color": "#ff60e8"}, {"offset": 0.1667, "color": "#ff9cf0"}, {"offset": 0.3333, "color": "#ffd4f0"}, {"offset": 0.5, "color": "#fff4e0"}, {"offset": 0.6667, "color": "#f8f4b8"}, {"offset": 0.8333, "color": "#d8f088"}, {"offset": 1, "color": "#aaec68"}]}},
            "encoding": {"x2": {"field": "x_hi"}, "y2": {"field": "y_hi"}}
          },
          {
            "data": {"name": "segs"},
            "transform": [{"filter": "abs(datum.x - 0.40) < 1e-6"}],
            "mark": {"type": "rect", "strokeWidth": 0, "fill": {"gradient": "linear", "x1": 0, "y1": 1, "x2": 0, "y2": 0, "stops": [{"offset": 0, "color": "#ff30b8"}, {"offset": 0.1667, "color": "#ff70c8"}, {"offset": 0.3333, "color": "#ffa4c8"}, {"offset": 0.5, "color": "#ffc4b0"}, {"offset": 0.6667, "color": "#ffd898"}, {"offset": 0.8333, "color": "#ffe070"}, {"offset": 1, "color": "#f4ea48"}]}},
            "encoding": {"x2": {"field": "x_hi"}, "y2": {"field": "y_hi"}}
          },
          {
            "data": {"name": "segs"},
            "transform": [{"filter": "abs(datum.x - 0.45) < 1e-6"}],
            "mark": {"type": "rect", "strokeWidth": 0, "fill": {"gradient": "linear", "x1": 0, "y1": 1, "x2": 0, "y2": 0, "stops": [{"offset": 0, "color": "#ff1098"}, {"offset": 0.1667, "color": "#ff48a8"}, {"offset": 0.3333, "color": "#ff78a8"}, {"offset": 0.5, "color": "#ff9a88"}, {"offset": 0.6667, "color": "#ffac70"}, {"offset": 0.8333, "color": "#ffc050"}, {"offset": 1, "color": "#ffd030"}]}},
            "encoding": {"x2": {"field": "x_hi"}, "y2": {"field": "y_hi"}}
          },
          {
            "data": {"name": "cells"},
            "transform": [{"filter": "datum.x > 0.1999 && datum.x < 0.2499"}],
            "mark": {"type": "rect", "strokeWidth": 0, "fill": {"gradient": "linear", "x1": 0, "y1": 1, "x2": 0, "y2": 0, "stops": [{"offset": 0, "color": "#a088f6"}, {"offset": 0.1667, "color": "#90c0fa"}, {"offset": 0.3333, "color": "#70eefa"}, {"offset": 0.5, "color": "#60f4e8"}, {"offset": 0.6667, "color": "#48f0c0"}, {"offset": 0.8333, "color": "#36eaa4"}, {"offset": 1, "color": "#28e690"}]}},
            "encoding": {"x2": {"field": "x_hi"}, "y2": {"field": "y_hi"},
              "opacity": {"field": "x", "type": "quantitative", "scale": {"domain": [0.195, 0.245], "range": [0, 1], "clamp": true, "zero": false, "nice": false}, "legend": null}}
          },
          {
            "data": {"name": "cells"},
            "transform": [{"filter": "datum.x > 0.2499 && datum.x < 0.2999"}],
            "mark": {"type": "rect", "strokeWidth": 0, "fill": {"gradient": "linear", "x1": 0, "y1": 1, "x2": 0, "y2": 0, "stops": [{"offset": 0, "color": "#f070f8"}, {"offset": 0.1667, "color": "#f0b8fc"}, {"offset": 0.3333, "color": "#e4f6fc"}, {"offset": 0.5, "color": "#d0fae8"}, {"offset": 0.6667, "color": "#a8f4b8"}, {"offset": 0.8333, "color": "#80ee94"}, {"offset": 1, "color": "#56e878"}]}},
            "encoding": {"x2": {"field": "x_hi"}, "y2": {"field": "y_hi"},
              "opacity": {"field": "x", "type": "quantitative", "scale": {"domain": [0.245, 0.295], "range": [0, 1], "clamp": true, "zero": false, "nice": false}, "legend": null}}
          },
          {
            "data": {"name": "cells"},
            "transform": [{"filter": "datum.x > 0.2999 && datum.x < 0.3499"}],
            "mark": {"type": "rect", "strokeWidth": 0, "fill": {"gradient": "linear", "x1": 0, "y1": 1, "x2": 0, "y2": 0, "stops": [{"offset": 0, "color": "#ff60e8"}, {"offset": 0.1667, "color": "#ff9cf0"}, {"offset": 0.3333, "color": "#ffd4f0"}, {"offset": 0.5, "color": "#fff4e0"}, {"offset": 0.6667, "color": "#f8f4b8"}, {"offset": 0.8333, "color": "#d8f088"}, {"offset": 1, "color": "#aaec68"}]}},
            "encoding": {"x2": {"field": "x_hi"}, "y2": {"field": "y_hi"},
              "opacity": {"field": "x", "type": "quantitative", "scale": {"domain": [0.295, 0.345], "range": [0, 1], "clamp": true, "zero": false, "nice": false}, "legend": null}}
          },
          {
            "data": {"name": "cells"},
            "transform": [{"filter": "datum.x > 0.3499 && datum.x < 0.3999"}],
            "mark": {"type": "rect", "strokeWidth": 0, "fill": {"gradient": "linear", "x1": 0, "y1": 1, "x2": 0, "y2": 0, "stops": [{"offset": 0, "color": "#ff30b8"}, {"offset": 0.1667, "color": "#ff70c8"}, {"offset": 0.3333, "color": "#ffa4c8"}, {"offset": 0.5, "color": "#ffc4b0"}, {"offset": 0.6667, "color": "#ffd898"}, {"offset": 0.8333, "color": "#ffe070"}, {"offset": 1, "color": "#f4ea48"}]}},
            "encoding": {"x2": {"field": "x_hi"}, "y2": {"field": "y_hi"},
              "opacity": {"field": "x", "type": "quantitative", "scale": {"domain": [0.345, 0.395], "range": [0, 1], "clamp": true, "zero": false, "nice": false}, "legend": null}}
          },
          {
            "data": {"name": "cells"},
            "transform": [{"filter": "datum.x > 0.3999 && datum.x < 0.4499"}],
            "mark": {"type": "rect", "strokeWidth": 0, "fill": {"gradient": "linear", "x1": 0, "y1": 1, "x2": 0, "y2": 0, "stops": [{"offset": 0, "color": "#ff1098"}, {"offset": 0.1667, "color": "#ff48a8"}, {"offset": 0.3333, "color": "#ff78a8"}, {"offset": 0.5, "color": "#ff9a88"}, {"offset": 0.6667, "color": "#ffac70"}, {"offset": 0.8333, "color": "#ffc050"}, {"offset": 1, "color": "#ffd030"}]}},
            "encoding": {"x2": {"field": "x_hi"}, "y2": {"field": "y_hi"},
              "opacity": {"field": "x", "type": "quantitative", "scale": {"domain": [0.395, 0.445], "range": [0, 1], "clamp": true, "zero": false, "nice": false}, "legend": null}}
          },
          {
            "data": {"name": "cells"},
            "transform": [{"filter": "datum.x > 0.4499"}],
            "mark": {"type": "rect", "strokeWidth": 0, "fill": {"gradient": "linear", "x1": 0, "y1": 1, "x2": 0, "y2": 0, "stops": [{"offset": 0, "color": "#ff0080"}, {"offset": 0.1667, "color": "#ff2890"}, {"offset": 0.3333, "color": "#ff5888"}, {"offset": 0.5, "color": "#ff7060"}, {"offset": 0.6667, "color": "#ff8a48"}, {"offset": 0.8333, "color": "#ff9a30"}, {"offset": 1, "color": "#ffa310"}]}},
            "encoding": {"x2": {"field": "x_hi"}, "y2": {"field": "y_hi"},
              "opacity": {"field": "x", "type": "quantitative", "scale": {"domain": [0.445, 0.495], "range": [0, 1], "clamp": true, "zero": false, "nice": false}, "legend": null}}
          },
          {
            "data": {"name": "locus"},
            "mark": {"type": "line", "color": "#0c2a4c", "strokeWidth": 4, "interpolate": "monotone", "clip": true},
            "encoding": {}
          },
          {
            "data": {"name": "temps"},
            "mark": {"type": "point", "shape": "M0,-1L0,1M-1,0L1,0M-0.7,-0.7L0.7,0.7M-0.7,0.7L0.7,-0.7", "size": 450, "stroke": "#0c2a4c", "strokeWidth": 3.5, "filled": false, "opacity": 1},
            "encoding": {}
          },
          {
            "data": {"name": "temps"},
            "transform": [{"filter": "datum.label !== '3000 K'"}],
            "mark": {"type": "text", "fontSize": 24, "align": "left", "baseline": "middle", "dx": 12, "dy": 14, "color": "#1b2d4b"},
            "encoding": {"text": {"field": "label"}}
          },
          {
            "data": {"name": "temps"},
            "transform": [{"filter": "datum.label === '3000 K'"}],
            "mark": {"type": "text", "fontSize": 24, "align": "left", "baseline": "middle", "dx": -3, "dy": -29, "color": "#1b2d4b"},
            "encoding": {"text": {"field": "label"}}
          },
          {
            "data": {"name": "points"},
            "mark": {"type": "point", "strokeWidth": 4, "opacity": 1},
            "encoding": {
              "fill": {"field": "sample", "type": "nominal", "scale": {"domain": ["Planckian locus", "\uD835\uDE39 = 0.5", "\uD835\uDE39 = 0.5 + red", "\uD835\uDE39 = 0.9"], "range": ["transparent", "transparent", "#35a5cc", "transparent"]},
                "legend": {"title": null, "orient": "none", "legendX": 443.5, "legendY": 94, "padding": 0, "labelOffset": 25, "rowPadding": 9, "symbolStrokeWidth": 4}},
              "stroke": {"field": "sample", "type": "nominal", "scale": {"domain": ["Planckian locus", "\uD835\uDE39 = 0.5", "\uD835\uDE39 = 0.5 + red", "\uD835\uDE39 = 0.9"], "range": ["#0c2a4c", "#3d52b1", "#35a5cc", "#b2182b"]},
                "legend": {"title": null, "orient": "none", "legendX": 443.5, "legendY": 94, "padding": 0, "labelOffset": 25, "rowPadding": 9, "symbolStrokeWidth": 4}},
              "shape": {"field": "sample", "type": "nominal", "scale": {"domain": ["Planckian locus", "\uD835\uDE39 = 0.5", "\uD835\uDE39 = 0.5 + red", "\uD835\uDE39 = 0.9"], "range": ["stroke", "square", "square", "circle"]},
                "legend": {"title": null, "orient": "none", "legendX": 443.5, "legendY": 94, "padding": 0, "labelOffset": 25, "rowPadding": 9, "symbolStrokeWidth": 4}},
              "size": {"field": "sample", "type": "nominal", "scale": {"type": "ordinal", "domain": ["Planckian locus", "\uD835\uDE39 = 0.5", "\uD835\uDE39 = 0.5 + red", "\uD835\uDE39 = 0.9"], "range": [2809, 196, 196, 289]},
                "legend": {"title": null, "orient": "none", "legendX": 443.5, "legendY": 94, "padding": 0, "labelOffset": 25, "rowPadding": 9, "symbolStrokeWidth": 4}}
            }
          }
        ]
      },
      {
        "data": {"values": [{}]},
        "mark": {"type": "text", "fontSize": 32, "align": "left", "baseline": "middle", "color": "black"},
        "encoding": {
          "x": {"datum": 0.2168, "type": "quantitative", "scale": {"domain": [0.2, 0.5], "nice": false, "zero": false},
            "axis": {"title": "CIE 1931 \uD835\uDE39", "values": [0.2,0.21,0.22,0.23,0.24,0.25,0.26,0.27,0.28,0.29,0.3,0.31,0.32,0.33,0.34,0.35,0.36,0.37,0.38,0.39,0.4,0.41,0.42,0.43,0.44,0.45,0.46,0.47,0.48,0.49,0.5], "labelExpr": "abs(datum.value*10 - round(datum.value*10)) < 1e-6 ? format(datum.value, '.1f') : ''", "labelOverlap": false, "ticks": false, "labelPadding": 15, "titlePadding": 8, "grid": true, "gridWidth": 1, "gridColor": {"condition": {"test": "abs(datum.value*10 - round(datum.value*10)) < 1e-6", "value": "rgba(40,40,40,0.6)"}, "value": "rgba(60,60,60,0.3)"}, "zindex": 1}},
          "y": {"datum": 0.4696, "type": "quantitative", "scale": {"domain": [0.2, 0.5], "nice": false, "zero": false},
            "axis": {"title": "CIE 1931 \uD835\uDE3A", "values": [0.2,0.21,0.22,0.23,0.24,0.25,0.26,0.27,0.28,0.29,0.3,0.31,0.32,0.33,0.34,0.35,0.36,0.37,0.38,0.39,0.4,0.41,0.42,0.43,0.44,0.45,0.46,0.47,0.48,0.49,0.5], "labelExpr": "abs(datum.value*10 - round(datum.value*10)) < 1e-6 ? format(datum.value, '.1f') : ''", "labelOverlap": false, "ticks": false, "labelPadding": 14, "titlePadding": 19, "grid": true, "gridWidth": 1, "gridColor": {"condition": {"test": "abs(datum.value*10 - round(datum.value*10)) < 1e-6", "value": "rgba(40,40,40,0.6)"}, "value": "rgba(60,60,60,0.3)"}, "zindex": 1}},
          "text": {"value": "(c)"}
        }
      }
    ]
  }
]
}
